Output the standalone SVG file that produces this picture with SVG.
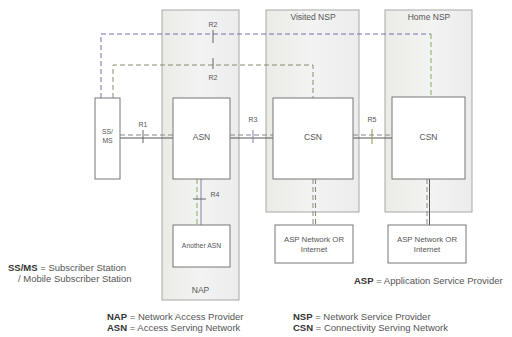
<svg xmlns="http://www.w3.org/2000/svg" width="512" height="337" viewBox="0 0 512 337">
  <defs>
    <linearGradient id="zone" x1="0" y1="0" x2="1" y2="0">
      <stop offset="0" stop-color="#ebebe6"/>
      <stop offset="0.5" stop-color="#f3f3f3"/>
      <stop offset="1" stop-color="#ececec"/>
    </linearGradient>
  </defs>
  <style>
    text { font-family: "Liberation Sans", Arial, sans-serif; fill: #555; }
    .zone { fill: url(#zone); stroke: #a8a8a8; stroke-width: 1; }
    .box { fill: #ffffff; stroke: #777; stroke-width: 1; }
    .lbl { font-size: 8.5px; text-anchor: middle; }
    .mid { font-size: 7.8px; text-anchor: middle; }
    .small { font-size: 6.8px; text-anchor: middle; }
    .ref { font-size: 7px; text-anchor: middle; }
    .legend { font-size: 9.5px; }
    .legend tspan.b { font-weight: bold; fill: #333; }
    .solid { stroke: #555; stroke-width: 1; fill: none; }
    .solidp { stroke: #8080a8; stroke-width: 1; fill: none; }
    .dash { stroke: #888; stroke-width: 1; stroke-dasharray: 5 3; fill: none; }
    .dashp { stroke: #7070b0; stroke-width: 1; stroke-dasharray: 5 3; fill: none; }
    .dasho { stroke: #8a8a70; stroke-width: 1; stroke-dasharray: 5 3; fill: none; }
    .dashg { stroke: #88aa55; stroke-width: 1; stroke-dasharray: 5 3; fill: none; }
    .tick { stroke: #666; stroke-width: 1; }
  </style>

  <!-- provider zones -->
  <g id="nap">
    <rect class="zone" x="162" y="10" width="77" height="290"/>
    <text class="lbl" x="200.5" y="293">NAP</text>
  </g>
  <g id="visited-nsp">
    <rect class="zone" x="266" y="10" width="93" height="202"/>
    <text class="lbl" x="313" y="20">Visited NSP</text>
  </g>
  <g id="home-nsp">
    <rect class="zone" x="385" y="10" width="87" height="202"/>
    <text class="lbl" x="429" y="20">Home NSP</text>
  </g>

  <!-- connectors -->
  <g id="connectors">
    <!-- R2 control paths -->
    <polyline class="dashp" points="101,98 101,34 431,34"/>
    <line class="dashg" x1="431" y1="34" x2="431" y2="97"/>
    <polyline class="dasho" points="113,98 113,65 313,65 313,98"/>
    <line class="tick" x1="213" y1="30" x2="213" y2="43"/>
    <line class="tick" x1="213" y1="58" x2="213" y2="69"/>

    <!-- R1: SS/MS to ASN -->
    <line class="dash" x1="120" y1="135" x2="173" y2="135"/>
    <line class="solid" x1="120" y1="138" x2="173" y2="138"/>
    <line class="tick" x1="143" y1="130" x2="143" y2="143"/>

    <!-- R3: ASN to visited CSN -->
    <line class="dash" x1="230" y1="135" x2="273" y2="135"/>
    <line class="solid" x1="230" y1="138" x2="273" y2="138"/>
    <line class="solidp" x1="253" y1="130" x2="253" y2="143"/>

    <!-- R5: visited CSN to home CSN -->
    <line class="dash" x1="353" y1="135" x2="392" y2="135"/>
    <line class="solid" x1="353" y1="138" x2="392" y2="138"/>
    <line stroke="#8a9a50" stroke-width="1" x1="372" y1="129" x2="372" y2="144"/>

    <!-- R4: ASN to another ASN -->
    <line class="dashg" x1="197" y1="179" x2="197" y2="225"/>
    <line class="solidp" x1="201" y1="179" x2="201" y2="225"/>
    <line class="tick" x1="193" y1="199" x2="206" y2="199"/>

    <!-- CSN to ASP network -->
    <line class="dash" x1="313" y1="179" x2="313" y2="225"/>
    <line class="dasho" x1="315.5" y1="179" x2="315.5" y2="225" stroke-dasharray="none"/>
    <line class="dash" x1="427" y1="179" x2="427" y2="225"/>
    <line class="solid" x1="429.5" y1="179" x2="429.5" y2="225"/>

    <!-- reference point labels -->
    <text class="ref" x="213" y="27">R2</text>
    <text class="ref" x="213" y="80">R2</text>
    <text class="ref" x="143" y="127">R1</text>
    <text class="ref" x="253" y="122">R3</text>
    <text class="ref" x="372" y="122">R5</text>
    <text class="ref" x="215" y="197">R4</text>
  </g>

  <!-- functional entities -->
  <g id="ss-ms">
    <rect class="box" x="95" y="98" width="25" height="81"/>
    <text class="small" x="107.5" y="134">SS/</text>
    <text class="small" x="107.5" y="143">MS</text>
  </g>
  <g id="asn">
    <rect class="box" x="173" y="98" width="57" height="81"/>
    <text class="lbl" x="201.5" y="140">ASN</text>
  </g>
  <g id="another-asn">
    <rect class="box" x="173" y="225" width="57" height="42"/>
    <text class="small" x="201.5" y="248">Another ASN</text>
  </g>
  <g id="visited-csn">
    <rect class="box" x="273" y="98" width="80" height="81"/>
    <text class="lbl" x="313" y="140">CSN</text>
  </g>
  <g id="home-csn">
    <rect class="box" x="392" y="97" width="73" height="82"/>
    <text class="lbl" x="428.5" y="140">CSN</text>
  </g>
  <g id="asp-visited">
    <rect class="box" x="275" y="225" width="78" height="38"/>
    <text class="mid" x="314" y="242">ASP Network OR</text>
    <text class="mid" x="314" y="252">Internet</text>
  </g>
  <g id="asp-home">
    <rect class="box" x="388" y="225" width="78" height="38"/>
    <text class="mid" x="427" y="242">ASP Network OR</text>
    <text class="mid" x="427" y="252">Internet</text>
  </g>

  <!-- legend -->
  <g id="legend">
    <text class="legend" x="8" y="271"><tspan class="b">SS/MS</tspan> = Subscriber Station</text>
    <text class="legend" x="18" y="282">/ Mobile Subscriber Station</text>
    <text class="legend" x="354" y="284"><tspan class="b">ASP</tspan> = Application Service Provider</text>
    <text class="legend" x="107" y="320"><tspan class="b">NAP</tspan> = Network Access Provider</text>
    <text class="legend" x="107" y="331"><tspan class="b">ASN</tspan> = Access Serving Network</text>
    <text class="legend" x="293" y="320"><tspan class="b">NSP</tspan> = Network Service Provider</text>
    <text class="legend" x="293" y="331"><tspan class="b">CSN</tspan> = Connectivity Serving Network</text>
  </g>
</svg>
